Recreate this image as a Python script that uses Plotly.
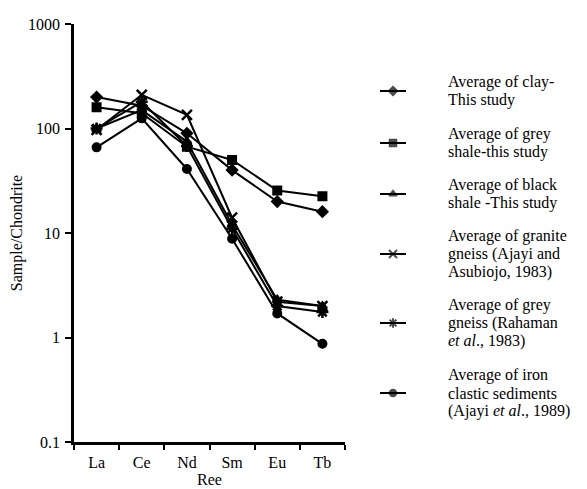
import plotly.graph_objects as go

ree = ["La", "Ce", "Nd", "Sm", "Eu", "Tb"]
clay = [200, 165, 90, 40, 20, 16]
grey_shale = [160, 140, 67, 50, 25.5, 22.5]
black_shale = [100, 150, 75, 12, 2.3, 2.0]
granite_gneiss = [97, 210, 135, 14, 2.2, 2.0]
grey_gneiss = [100, 180, 68, 11, 2.0, 1.75]
iron_clastic = [66, 125, 41, 8.8, 1.7, 0.87]

legend_lines = [
    ["Average of clay-", "This study"],
    ["Average of grey", "shale-this study"],
    ["Average of black", "shale -This study"],
    ["Average of granite", "gneiss (Ajayi and", "Asubiojo, 1983)"],
    ["Average of grey", "gneiss (Rahaman", "<i>et al</i>., 1983)"],
    ["Average of iron", "clastic sediments", "(Ajayi <i>et al</i>., 1989)"],
]
series = [clay, grey_shale, black_shale, granite_gneiss, grey_gneiss, iron_clastic]
symbols = ["diamond", "square", "triangle-up", "x-thin", "asterisk", "circle"]

FONT = "Liberation Serif"
FS = 16

W, H = 587, 489
ML, MT, MB = 66, 16, 55
PLOT_W = 271                      # pixel width of the chart area
AREA_W = W - ML                   # paper area width (right margin 0)
LEG_X0 = 360                      # pixel where legend subplot starts

# legend layout (pixels)
leg_first_line = [74, 126, 177, 228, 297, 367]
line_gap = 18
leg_line_x = (372, 398)
leg_text_x = 438

fig = go.Figure()
for i, (lines, vals, sym) in enumerate(zip(legend_lines, series, symbols)):
    mk = dict(symbol=sym, size=8, color="black", line=dict(color="black", width=2))
    if sym in ("x-thin", "asterisk"):
        mk["size"] = 10
        mk["line"] = dict(color="black", width=2.5)
    fig.add_trace(go.Scatter(x=ree, y=vals, mode="lines+markers",
                             name=" ".join(lines), showlegend=False,
                             line=dict(color="black", width=2), marker=mk))
    # legend key
    yc = leg_first_line[i] + line_gap * (len(lines) - 1) / 2
    if sym in ("x-thin", "asterisk"):
        lm = dict(symbol=sym, size=[0, 8, 0], color="black", line=dict(color="black", width=2))
    else:
        lm = dict(symbol=sym, size=[0, 7, 0], color="black", line=dict(color="black", width=1.5))
    fig.add_trace(go.Scatter(x=[leg_line_x[0], sum(leg_line_x) / 2, leg_line_x[1]],
                             y=[yc, yc, yc], xaxis="x2", yaxis="y2",
                             mode="lines+markers", showlegend=False, hoverinfo="skip",
                             line=dict(color="black", width=2), marker=lm))
    for j, txt in enumerate(lines):
        fig.add_annotation(x=leg_text_x, y=leg_first_line[i] + j * line_gap,
                           xref="x2", yref="y2", text=txt, showarrow=False,
                           xanchor="left", yanchor="middle",
                           font=dict(family=FONT, size=FS, color="black"))

fig.update_layout(
    width=W, height=H,
    paper_bgcolor="white", plot_bgcolor="white",
    margin=dict(l=ML, r=0, t=MT, b=MB),
    font=dict(family=FONT, size=FS, color="black"),
    showlegend=False,
    xaxis=dict(domain=[0, PLOT_W / AREA_W], anchor="y",
               type="category", categoryorder="array", categoryarray=ree,
               range=[-0.5, 5.5], tickson="boundaries", ticks="outside",
               ticklen=5, tickwidth=2, tickcolor="black",
               showline=True, linecolor="black", linewidth=2.5,
               showgrid=False, zeroline=False, ticklabelstandoff=4,
               tickfont=dict(family=FONT, size=FS),
               title=dict(text="Ree", standoff=0, font=dict(family=FONT, size=FS))),
    yaxis=dict(domain=[0, 1], anchor="x",
               type="log", range=[-1, 3], tickvals=[0.1, 1, 10, 100, 1000],
               ticktext=["0.1", "1", "10", "100", "1000"],
               ticks="outside", ticklen=6, tickwidth=2, tickcolor="black",
               showline=True, linecolor="black", linewidth=2.5,
               showgrid=False, zeroline=False, ticklabelstandoff=2,
               tickfont=dict(family=FONT, size=FS),
               title=dict(text="Sample/Chondrite", standoff=6, font=dict(family=FONT, size=FS))),
    xaxis2=dict(domain=[(LEG_X0 - ML) / AREA_W, 1], anchor="y2",
                range=[LEG_X0, W], visible=False, fixedrange=True),
    yaxis2=dict(domain=[0, 1], anchor="x2",
                range=[H - MB, MT], visible=False, fixedrange=True),
)

fig.write_html("out.html")
